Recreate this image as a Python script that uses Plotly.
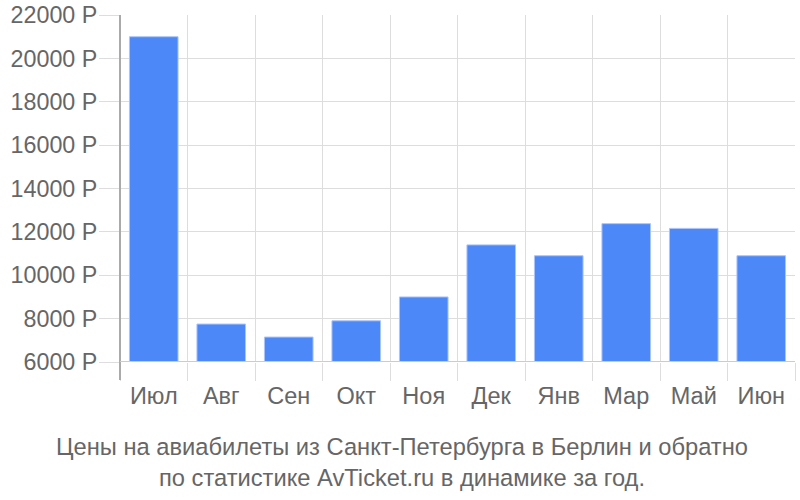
import plotly.graph_objects as go

months = ["Июл", "Авг", "Сен", "Окт", "Ноя", "Дек", "Янв", "Мар", "Май", "Июн"]
prices = [21000, 7750, 7150, 7900, 9000, 11400, 10900, 12380, 12160, 10900]
base_value = 6000
tick_vals = [6000, 8000, 10000, 12000, 14000, 16000, 18000, 20000, 22000]
tick_text = [f"{v} Р" for v in tick_vals]
caption = "Цены на авиабилеты из Санкт-Петербурга в Берлин и обратно<br>по статистике AvTicket.ru в динамике за год."

fig = go.Figure(go.Bar(
    x=months,
    y=[p - base_value for p in prices],
    base=base_value,
    marker=dict(color="#4d88f8", line=dict(color="#a9c5fb", width=1)),
    width=0.72,
    hoverinfo="skip",
))

font_family = "Liberation Sans, Arial, sans-serif"
fig.update_layout(
    width=800, height=500,
    margin=dict(l=120, r=5, t=15, b=138, autoexpand=False),
    plot_bgcolor="white", paper_bgcolor="white",
    showlegend=False,
    font=dict(family=font_family, size=24, color="#666666"),
    xaxis=dict(
        type="category",
        automargin=False,
        tickson="boundaries",
        ticks="outside", ticklen=18, tickcolor="#dddddd", tickwidth=1,
        showgrid=True, gridcolor="#dddddd", gridwidth=1,
        showline=False, zeroline=False,
        tickfont=dict(size=23.5, color="#666666"),
        ticklabelstandoff=17,
        range=[-0.5, 9.5],
    ),
    yaxis=dict(
        automargin=False,
        range=[6000, 22000],
        tickvals=tick_vals, ticktext=tick_text,
        ticks="outside", ticklen=20, tickcolor="#dddddd", tickwidth=1,
        showgrid=True, gridcolor="#dddddd", gridwidth=1,
        showline=False, zeroline=False,
        tickfont=dict(size=23.3, color="#666666"),
        ticklabelstandoff=-3,
        ticklabeloverflow="allow",
    ),
    annotations=[dict(
        text=caption, xref="paper", yref="paper",
        x=0.418, y=-0.29, xanchor="center", yanchor="middle",
        showarrow=False, align="center",
        font=dict(family=font_family, size=23.7, color="#666666"),
    )],
)

# left axis line (darker), extended below the plot like the reference
fig.add_shape(type="line", xref="paper", yref="paper", x0=0, x1=0, y0=-0.052, y1=1,
              line=dict(color="#aaaaaa", width=2), layer="above")
# baseline line at 6000
fig.add_shape(type="line", xref="paper", yref="y", x0=0, x1=1, y0=6000, y1=6000,
              line=dict(color="#cccccc", width=2), layer="above")

fig.write_html("out.html", config={"displayModeBar": False},
               post_script="document.body.style.margin='0';")
